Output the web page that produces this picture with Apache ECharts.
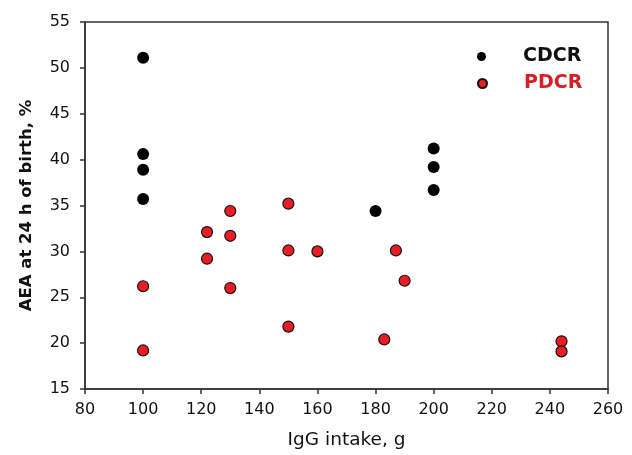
<!DOCTYPE html>
<html>
<head>
<meta charset="utf-8">
<script src="https://cdn.jsdelivr.net/npm/echarts@6/dist/echarts.min.js"></script>
<style>html,body{margin:0;padding:0;background:#fff}#c{width:632px;height:455px}</style>
</head>
<body>
<div id="c"></div>
<script>
// IgG intake (g) and AEA at 24 h (%) per calf
const cdcrX = [100, 100, 100, 100, 180, 200, 200, 200];
const cdcrY = [51.1, 40.6, 38.9, 35.7, 34.4, 41.2, 39.2, 36.7];
const pdcrX = [100, 100, 122, 122, 130, 130, 130, 150, 150, 150, 160, 187, 190, 183, 244, 244];
const pdcrY = [26.2, 19.2, 32.1, 29.2, 34.4, 31.7, 26.0, 35.2, 30.1, 21.8, 30.0, 30.1, 26.8, 20.4, 20.2, 19.1];
const xTicks = [80, 100, 120, 140, 160, 180, 200, 220, 240, 260];
const yTicks = [15, 20, 25, 30, 35, 40, 45, 50, 55];
const seriesNames = ['CDCR', 'PDCR'];

const pair = (xs, ys) => xs.map((x, i) => [x, ys[i]]);
const FONT = '"DejaVu Sans", sans-serif';
const chart = echarts.init(document.getElementById('c'), null, {renderer: 'canvas'});
chart.setOption({
  animation: false,
  backgroundColor: '#fff',
  grid: {left: 85, right: 24, top: 22, bottom: 66, show: true, borderColor: '#333', borderWidth: 1.5, backgroundColor: 'transparent'},
  legend: [
    {data: [seriesNames[0]], left: 472, top: 42, itemWidth: 9, itemHeight: 9,
     textStyle: {fontFamily: FONT, fontSize: 19, fontWeight: 'bold', color: '#111', padding: [0, 0, 0, 32]}},
    {data: [seriesNames[1]], left: 472, top: 69, itemWidth: 9, itemHeight: 9,
     textStyle: {fontFamily: FONT, fontSize: 19, fontWeight: 'bold', color: '#d42128', padding: [0, 0, 0, 32]}}
  ],
  xAxis: {
    type: 'value', min: xTicks[0], max: xTicks[xTicks.length - 1], interval: xTicks[1] - xTicks[0],
    name: 'IgG intake, g', nameLocation: 'middle', nameGap: 42,
    nameTextStyle: {fontFamily: FONT, fontSize: 18.5, color: '#111'},
    axisLine: {show: true, lineStyle: {color: '#333', width: 1.5}},
    axisTick: {show: true, inside: false, length: 5, lineStyle: {color: '#333', width: 1.5}},
    axisLabel: {fontFamily: FONT, fontSize: 16, color: '#111', margin: 13},
    splitLine: {show: false}
  },
  yAxis: {
    type: 'value', min: yTicks[0], max: yTicks[yTicks.length - 1], interval: yTicks[1] - yTicks[0],
    name: 'AEA at 24 h of birth, %', nameLocation: 'middle', nameGap: 50, nameRotate: 90,
    nameTextStyle: {fontFamily: FONT, fontSize: 16.5, fontWeight: 'bold', color: '#111'},
    axisLine: {show: true, lineStyle: {color: '#333', width: 1.5}},
    axisTick: {show: true, inside: false, length: 5, lineStyle: {color: '#333', width: 1.5}},
    axisLabel: {fontFamily: FONT, fontSize: 16, color: '#111', margin: 15},
    splitLine: {show: false}
  },
  series: [
    {name: seriesNames[0], type: 'scatter', data: pair(cdcrX, cdcrY), symbol: 'circle', symbolSize: 12,
     itemStyle: {color: '#000', borderColor: '#000', borderWidth: 0, opacity: 1}, z: 3},
    {name: seriesNames[1], type: 'scatter', data: pair(pdcrX, pdcrY), symbol: 'circle', symbolSize: 11,
     itemStyle: {color: '#ec1c24', borderColor: '#111', borderWidth: 1.2, opacity: 1}, z: 3}
  ]
});
</script>
</body>
</html>
